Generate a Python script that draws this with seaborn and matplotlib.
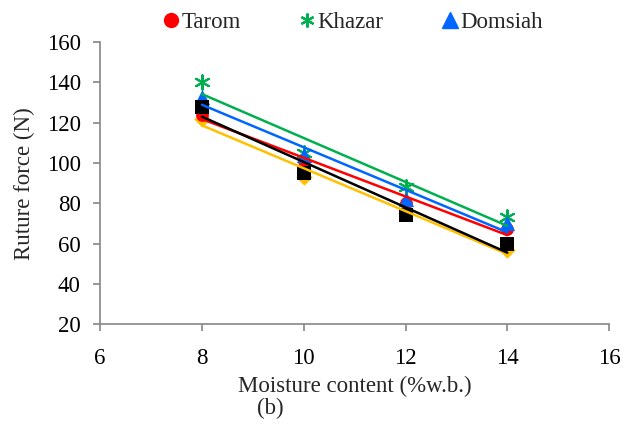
import numpy as np
import pandas as pd
import matplotlib
matplotlib.use("Agg")
import matplotlib.pyplot as plt
import seaborn as sns
from matplotlib.lines import Line2D

# data
moisture = [8, 10, 12, 14]
tarom = [124, 101, 80, 67]
khazar = [140, 105, 88, 73]
domsiah = [133, 104, 82, 70]
variety_4 = [128, 95, 74, 60]   # black squares (no legend entry visible)
variety_5 = [122, 93, 75, 57]   # yellow diamonds (no legend entry visible)

sns.set_style("ticks")
plt.rcParams["font.family"] = ["Liberation Serif", "DejaVu Serif"]

grey = "#868686"
fs = 16.5
series = [
    ("Variety 5", variety_5, "#FFC000", "D", 70),
    ("Tarom", tarom, "#FF0000", "o", 85),
    ("Khazar", khazar, "#00B050", (6, 2, 0), 110),
    ("Domsiah", domsiah, "#0066FF", "^", 120),
    ("Variety 4", variety_4, "#000000", "s", 100),
]

fig = plt.figure(figsize=(6.26, 4.34), dpi=100)
ax = fig.add_axes([0.16, 0.253, 0.813, 0.65])

for name, vals, col, mk, sz in series:
    df = pd.DataFrame({"x": moisture, "y": vals})
    sns.scatterplot(data=df, x="x", y="y", color=col, marker=mk, s=sz,
                    edgecolor=col if mk != (6, 2, 0) else None,
                    linewidth=1.5 if mk == (6, 2, 0) else 0, ax=ax, zorder=3)
for name, vals, col, mk, sz in series:
    df = pd.DataFrame({"x": moisture, "y": vals})
    sns.regplot(data=df, x="x", y="y", scatter=False, ci=None, color=col,
                line_kws={"lw": 1.8, "zorder": 4}, ax=ax)

ax.set_xlim(6, 16)
ax.set_ylim(20, 160)
ax.set_xticks(range(6, 17, 2))
ax.set_yticks(range(20, 161, 20))
ax.set_xlabel("Moisture content (%w.b.)", fontsize=fs, labelpad=5)
ax.set_ylabel("Ruture force (N)", fontsize=fs, labelpad=8)
ax.tick_params(labelsize=fs, colors=grey, labelcolor="black", length=5, width=1.2)
ax.tick_params(axis="y", pad=9)
ax.tick_params(axis="x", pad=12)
for s in ["top", "right"]:
    ax.spines[s].set_visible(False)
for s in ["left", "bottom"]:
    ax.spines[s].set_color(grey)
    ax.spines[s].set_linewidth(1.2)

handles = [
    Line2D([], [], ls="", marker="o", color="#FF0000", markersize=10),
    Line2D([], [], ls="", marker=(6, 2, 0), color="#00B050", markersize=10, mew=1.6),
    Line2D([], [], ls="", marker="^", color="#0066FF", markersize=11),
]
fig.legend(handles, ["Tarom", "Khazar", "Domsiah"], loc="center",
           bbox_to_anchor=(0.565, 0.948), ncol=3, frameon=False, fontsize=fs,
           handlelength=0.6, handletextpad=0.15, columnspacing=2.6)

fig.text(0.432, 0.058, "(b)", fontsize=fs, ha="center", va="center")

fig.savefig("out.png", dpi=100)
